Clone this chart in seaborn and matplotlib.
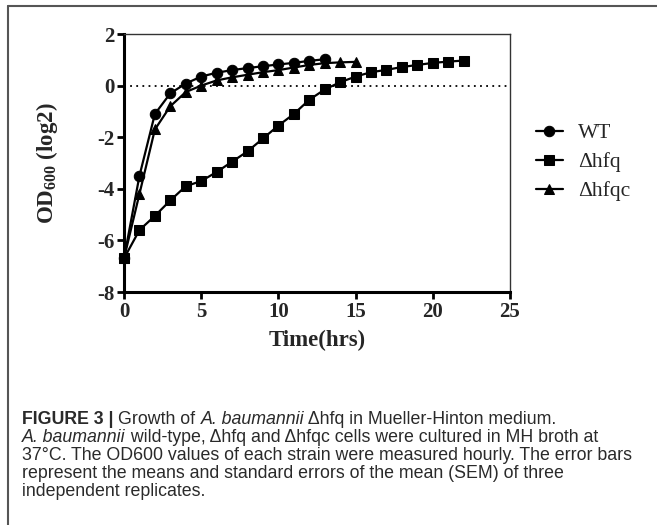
import pandas as pd
import seaborn as sns
import matplotlib.pyplot as plt
from matplotlib.lines import Line2D

# Growth curves, OD600 (log2)
hours_wt = list(range(0, 14))
od_wt = [-6.7, -3.5, -1.1, -0.3, 0.08, 0.35, 0.5, 0.6, 0.68, 0.75, 0.82, 0.88, 0.96, 1.02]

hours_hfq = list(range(0, 23))
od_hfq = [-6.7, -5.6, -5.05, -4.45, -3.9, -3.7, -3.35, -2.95, -2.55, -2.05, -1.55,
          -1.1, -0.55, -0.15, 0.13, 0.35, 0.52, 0.61, 0.72, 0.8, 0.88, 0.93, 0.97]

hours_hfqc = list(range(0, 16))
od_hfqc = [-6.7, -4.2, -1.7, -0.8, -0.25, 0.0, 0.2, 0.32, 0.42, 0.52, 0.6,
           0.7, 0.8, 0.87, 0.9, 0.92]

strains = ['WT', 'Δhfq', 'Δhfqc']
strain_markers = {'WT': 'o', 'Δhfq': 's', 'Δhfqc': '^'}

x_ticks = [0, 5, 10, 15, 20, 25]
y_ticks = [-8, -6, -4, -2, 0, 2]

caption_lines = [
    [('FIGURE 3 | ', 'bold'), ('Growth of ', 'normal'), ('A. baumannii', 'italic'),
     (' \u0394hfq in Mueller-Hinton medium.', 'normal')],
    [('A. baumannii', 'italic'),
     (' wild-type, \u0394hfq and \u0394hfqc cells were cultured in MH broth at', 'normal')],
    [('37\u00b0C. The OD600 values of each strain were measured hourly. The error bars', 'normal')],
    [('represent the means and standard errors of the mean (SEM) of three', 'normal')],
    [('independent replicates.', 'normal')],
]

df = pd.concat([
    pd.DataFrame({'time': hours_wt, 'od': od_wt, 'strain': 'WT'}),
    pd.DataFrame({'time': hours_hfq, 'od': od_hfq, 'strain': 'Δhfq'}),
    pd.DataFrame({'time': hours_hfqc, 'od': od_hfqc, 'strain': 'Δhfqc'}),
], ignore_index=True)

sns.set_style('white')
plt.rcParams['font.family'] = ['Liberation Serif', 'DejaVu Serif']
plt.rcParams['mathtext.fontset'] = 'custom'
plt.rcParams['mathtext.rm'] = 'Liberation Serif:bold'
plt.rcParams['mathtext.bf'] = 'Liberation Serif:bold'

W, H = 657, 525
fig = plt.figure(figsize=(W / 100, H / 100), dpi=100)
ax = fig.add_axes([124 / W, 1 - 292 / H, 386 / W, 258 / H])

g = sns.lineplot(data=df, x='time', y='od', hue='strain', style='strain',
                 hue_order=strains, style_order=strains,
                 palette=['black'] * 3, markers=strain_markers, dashes=False,
                 markersize=7.5, linewidth=1.6, markeredgecolor='black',
                 ax=ax, clip_on=False, zorder=3)

ax.axhline(0, color='black', linestyle=(0, (1, 2.4)), linewidth=1.3, zorder=1)

ax.set_xlim(0, 25)
ax.set_ylim(-8, 2)
ax.set_xticks(x_ticks)
ax.set_yticks(y_ticks)
ax.set_xticklabels([str(t) for t in x_ticks], fontweight='bold', fontsize=15)
ax.set_yticklabels([str(t) for t in y_ticks], fontweight='bold', fontsize=15)
ax.tick_params(axis='both', direction='out', length=5, width=2, color='black', pad=2,
               bottom=True, left=True)

for side in ['left', 'bottom']:
    ax.spines[side].set_linewidth(2.2)
    ax.spines[side].set_color('black')
for side in ['top', 'right']:
    ax.spines[side].set_linewidth(1.0)
    ax.spines[side].set_color('#333333')

ax.set_xlabel('Time(hrs)', fontweight='bold', fontsize=16.5, va='center')
ax.xaxis.set_label_coords(0.5, (292 - 340) / 258)
ax.set_ylabel(r'$\mathbf{OD_{600}}$ (log2)', fontweight='bold', fontsize=16.5, va='center')
ax.yaxis.set_label_coords((47 - 124) / 386, 0.5)

# Legend
handles, labels = g.get_legend_handles_labels()
ax.legend(handles, labels, loc='upper left', bbox_to_anchor=(536 / W, 1 - 123 / H),
          bbox_transform=fig.transFigure, frameon=False, fontsize=15.5,
          handlelength=1.25, handletextpad=0.7, labelspacing=0.42, borderpad=0,
          borderaxespad=0)

# Outer frame of the figure panel
fig.add_artist(Line2D([8 / W, 1], [1 - 6 / H, 1 - 6 / H], transform=fig.transFigure,
                      color='#555555', linewidth=1.5))
fig.add_artist(Line2D([8 / W, 8 / W], [0, 1 - 6 / H], transform=fig.transFigure,
                      color='#555555', linewidth=1.5))

# Caption, drawn piece by piece so bold / italic runs sit next to each other
renderer = fig.canvas.get_renderer()
line_y = [420, 438, 456, 474, 492]
for y, pieces in zip(line_y, caption_lines):
    x = 22
    for text, style in pieces:
        t = fig.text(x / W, 1 - y / H, text, fontsize=12.8, va='center', ha='left',
                     family=['Liberation Sans', 'DejaVu Sans'], color='#2a2a2a',
                     fontweight='bold' if style == 'bold' else 'normal',
                     fontstyle='italic' if style == 'italic' else 'normal')
        x = t.get_window_extent(renderer).x1

fig.savefig('out.png', dpi=100)
